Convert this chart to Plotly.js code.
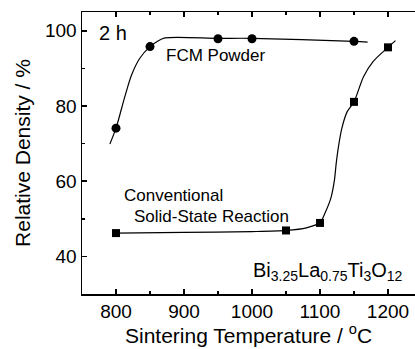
<!DOCTYPE html>
<html><head><meta charset="utf-8">
<script src="https://cdn.plot.ly/plotly-3.0.1.min.js"></script>
<style>html,body{margin:0;padding:0;background:#fff;}#chart{width:415px;height:349px;}</style>
</head><body><div id="chart"></div>
<script>
// Measured data points
const fcmT = [800, 850, 950, 1000, 1150];
const fcmDensity = [74.1, 95.8, 97.9, 97.9, 97.2];
const ssrT = [800, 1050, 1100, 1150, 1200];
const ssrDensity = [46.2, 46.9, 48.9, 81.1, 95.6];
// Fitted guide curves
const fcmFitT = [791, 800, 813, 823, 835, 850, 860, 872, 950, 1000, 1150, 1170];
const fcmFitY = [69.9, 74.1, 82.5, 88.3, 92.7, 95.8, 97.1, 98.1, 98.0, 98.0, 97.2, 97.0];
const ssrFitT = [800, 900, 1000, 1050, 1080, 1100, 1108, 1116, 1121, 1124, 1127, 1132, 1140, 1150, 1164, 1178, 1200, 1211];
const ssrFitY = [46.2, 46.4, 46.6, 46.9, 47.6, 49.0, 51.8, 55.5, 60.0, 65.0, 69.0, 74.0, 78.5, 81.1, 87.8, 91.8, 95.6, 97.4];
const xTickVals = [800, 900, 1000, 1100, 1200];
const yTickVals = [40, 60, 80, 100];
const xTitle = 'Sintering Temperature / <sup>o</sup>C';
const yTitle = 'Relative Density / %';

const FONT = '"Liberation Sans", Arial, sans-serif';
const traces = [
  {x: fcmFitT, y: fcmFitY, mode: 'lines', line: {color: '#000', width: 1.2, shape: 'spline', smoothing: 0.8}, hoverinfo: 'skip'},
  {x: ssrFitT, y: ssrFitY, mode: 'lines', line: {color: '#000', width: 1.2, shape: 'spline', smoothing: 0.8}, hoverinfo: 'skip'},
  {x: fcmT, y: fcmDensity, mode: 'markers', marker: {symbol: 'circle', size: 9, color: '#000'}},
  {x: ssrT, y: ssrDensity, mode: 'markers', marker: {symbol: 'square', size: 8, color: '#000'}}
];
const layout = {
  width: 415, height: 349,
  margin: {l: 82, r: 0, t: 12, b: 55},
  showlegend: false,
  paper_bgcolor: '#fff', plot_bgcolor: '#fff',
  font: {family: FONT, color: '#000', size: 19},
  xaxis: {
    range: [750, 1239.7], tickvals: xTickVals, ticktext: xTickVals.map(String),
    ticks: 'inside', ticklen: 5, tickwidth: 1.5, tickcolor: '#000',
    minor: {dtick: 50, tick0: 750, ticks: 'inside', ticklen: 3, tickwidth: 1.5, tickcolor: '#000'},
    showline: true, linecolor: '#000', linewidth: 1.5, mirror: 'allticks',
    showgrid: false, zeroline: false,
    tickfont: {size: 19, family: FONT}
  },
  yaxis: {
    range: [30, 105], tickvals: yTickVals, ticktext: yTickVals.map(String),
    ticks: 'inside', ticklen: 5, tickwidth: 1.5, tickcolor: '#000',
    minor: {dtick: 10, tick0: 30, ticks: 'inside', ticklen: 3, tickwidth: 1.5, tickcolor: '#000'},
    showline: true, linecolor: '#000', linewidth: 1.5, mirror: false,
    showgrid: false, zeroline: false,
    tickfont: {size: 19, family: FONT},
    title: {text: yTitle, font: {size: 21, family: FONT}, standoff: 8}
  },
  annotations: [
    {x: 0.5, y: 0, xref: 'paper', yref: 'paper', yshift: -40, text: xTitle, showarrow: false, xanchor: 'center', yanchor: 'middle', font: {size: 21, family: FONT}},
    {x: 772, y: 99.4, xref: 'x', yref: 'y', text: '2 h', showarrow: false, xanchor: 'left', yanchor: 'middle', font: {size: 20, family: FONT}},
    {x: 870.6, y: 93.3, xref: 'x', yref: 'y', text: 'FCM Powder', showarrow: false, xanchor: 'left', yanchor: 'middle', font: {size: 17, family: FONT}},
    {x: 808.8, y: 56.3, xref: 'x', yref: 'y', text: 'Conventional', showarrow: false, xanchor: 'left', yanchor: 'middle', font: {size: 17, family: FONT}},
    {x: 823.5, y: 50.7, xref: 'x', yref: 'y', text: 'Solid-State Reaction', showarrow: false, xanchor: 'left', yanchor: 'middle', font: {size: 17, family: FONT}},
    {x: 1225, y: 36, xref: 'x', yref: 'y', text: 'Bi<sub>3.25</sub>La<sub>0.75</sub>Ti<sub>3</sub>O<sub>12</sub>', showarrow: false, xanchor: 'right', yanchor: 'middle', font: {size: 20, family: FONT}}
  ]
};
Plotly.newPlot('chart', traces, layout, {staticPlot: true, displayModeBar: false});
</script></body></html>
